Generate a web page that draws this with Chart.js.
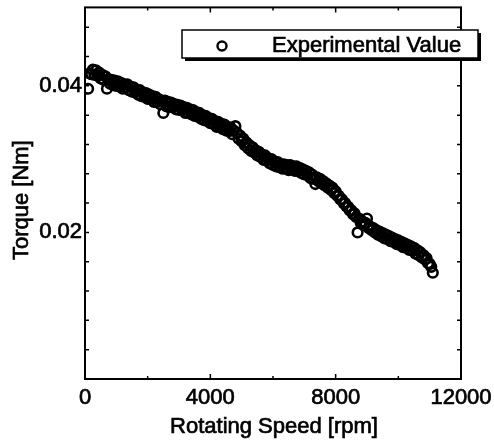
<!DOCTYPE html>
<html>
<head>
<meta charset="utf-8">
<script src="https://cdn.jsdelivr.net/npm/chart.js@4.4.1/dist/chart.umd.min.js"></script>
<style>
  html, body { margin: 0; padding: 0; background: #fff; }
  #wrap { width: 494px; height: 441px; }
</style>
</head>
<body>
<div id="wrap"><canvas id="torqueChart" width="494" height="441"></canvas></div>
<script>
// Measured torque vs rotating speed
const speed = [
  100, 150, 200, 250, 300, 350, 400, 450, 500, 550, 600, 650, 700, 750, 800, 850, 900, 950,
  1000, 1050, 1100, 1150, 1200, 1250, 1300, 1350, 1400, 1450, 1500, 1550, 1600, 1650, 1700, 1750, 1800, 1850, 1900, 1950,
  2000, 2050, 2100, 2150, 2200, 2250, 2300, 2350, 2400, 2450, 2500, 2550, 2600, 2650, 2700, 2750, 2800, 2850, 2900, 2950,
  3000, 3050, 3100, 3150, 3200, 3250, 3300, 3350, 3400, 3450, 3500, 3550, 3600, 3650, 3700, 3750, 3800, 3850, 3900, 3950,
  4000, 4050, 4100, 4150, 4200, 4250, 4300, 4350, 4400, 4450, 4500, 4550, 4600, 4650, 4700, 4750, 4800, 4850, 4900, 4950,
  5000, 5050, 5100, 5150, 5200, 5250, 5300, 5350, 5400, 5450, 5500, 5550, 5600, 5650, 5700, 5750, 5800, 5850, 5900, 5950,
  6000, 6050, 6100, 6150, 6200, 6250, 6300, 6350, 6400, 6450, 6500, 6550, 6600, 6650, 6700, 6750, 6800, 6850, 6900, 6950,
  7000, 7050, 7100, 7150, 7200, 7250, 7300, 7350, 7400, 7450, 7500, 7550, 7600, 7650, 7700, 7750, 7800, 7850, 7900, 7950,
  8000, 8050, 8100, 8150, 8200, 8250, 8300, 8350, 8400, 8450, 8500, 8550, 8600, 8650, 8700, 8750, 8800, 8850, 8900, 8950,
  9000, 9050, 9100, 9150, 9200, 9250, 9300, 9350, 9400, 9450, 9500, 9550, 9600, 9650, 9700, 9750, 9800, 9850, 9900, 9950,
  10000, 10050, 10100, 10150, 10200, 10250, 10300, 10350, 10400, 10450, 10500, 10550, 10600, 10650, 10700, 10750, 10800, 10850, 10900, 10950,
  11000, 11050, 11100
];
const torque = [
  0.0396, 0.0417, 0.0416, 0.0422, 0.0415, 0.0421, 0.0414, 0.0418, 0.0410, 0.0415, 0.0408, 0.0413, 0.0396, 0.0409, 0.0403, 0.0408, 0.0401, 0.0407,
  0.0400, 0.0406, 0.0399, 0.0404, 0.0396, 0.0402, 0.0398, 0.0402, 0.0394, 0.0399, 0.0392, 0.0398, 0.0391, 0.0395, 0.0388, 0.0394, 0.0386, 0.0391, 0.0385, 0.0390,
  0.0382, 0.0388, 0.0382, 0.0386, 0.0378, 0.0385, 0.0378, 0.0382, 0.0375, 0.0380, 0.0363, 0.0380, 0.0372, 0.0378, 0.0371, 0.0377, 0.0371, 0.0375, 0.0368, 0.0374,
  0.0367, 0.0373, 0.0367, 0.0371, 0.0363, 0.0370, 0.0363, 0.0368, 0.0361, 0.0367, 0.0359, 0.0364, 0.0358, 0.0363, 0.0355, 0.0360, 0.0353, 0.0359, 0.0352, 0.0356,
  0.0349, 0.0355, 0.0348, 0.0352, 0.0344, 0.0351, 0.0344, 0.0348, 0.0341, 0.0347, 0.0339, 0.0344, 0.0338, 0.0343, 0.0334, 0.0339, 0.0345, 0.0336, 0.0328, 0.0332,
  0.0324, 0.0328, 0.0319, 0.0323, 0.0315, 0.0319, 0.0311, 0.0316, 0.0309, 0.0312, 0.0305, 0.0310, 0.0303, 0.0306, 0.0299, 0.0305, 0.0298, 0.0301, 0.0294, 0.0300,
  0.0292, 0.0297, 0.0290, 0.0296, 0.0289, 0.0293, 0.0287, 0.0293, 0.0287, 0.0292, 0.0285, 0.0292, 0.0286, 0.0290, 0.0284, 0.0290, 0.0284, 0.0288, 0.0281, 0.0286,
  0.0279, 0.0284, 0.0278, 0.0282, 0.0274, 0.0279, 0.0273, 0.0266, 0.0275, 0.0270, 0.0273, 0.0267, 0.0270, 0.0264, 0.0267, 0.0261, 0.0264, 0.0258, 0.0261, 0.0254,
  0.0256, 0.0250, 0.0250, 0.0245, 0.0245, 0.0240, 0.0240, 0.0235, 0.0235, 0.0230, 0.0230, 0.0225, 0.0226, 0.0221, 0.0200, 0.0219, 0.0213, 0.0215, 0.0210, 0.0213,
  0.0219, 0.0206, 0.0208, 0.0203, 0.0206, 0.0200, 0.0203, 0.0197, 0.0201, 0.0195, 0.0199, 0.0192, 0.0197, 0.0191, 0.0195, 0.0188, 0.0193, 0.0187, 0.0191, 0.0184,
  0.0189, 0.0183, 0.0187, 0.0180, 0.0185, 0.0179, 0.0183, 0.0176, 0.0181, 0.0175, 0.0179, 0.0171, 0.0176, 0.0169, 0.0173, 0.0166, 0.0169, 0.0163, 0.0165, 0.0158,
  0.0157, 0.0153, 0.0145
];
const xTicks = [0, 4000, 8000, 12000];
const yLabels = [0.02, 0.04];
const seriesName = 'Experimental Value';
const xTitle = 'Rotating Speed [rpm]';
const yTitle = 'Torque [Nm]';

const FONT = "'Liberation Sans', Arial, sans-serif";

function heavyText(ctx, text, x, y) {
  ctx.fillText(text, x, y);
  ctx.strokeText(text, x, y);
}

// Box frame with inward ticks, axis titles and the boxed legend
const framePlugin = {
  id: 'frame',
  afterDatasetsDraw(chart) {
    const { ctx, chartArea: a, scales: { x, y } } = chart;
    ctx.save();
    ctx.strokeStyle = '#000';
    ctx.lineWidth = 2;
    ctx.strokeRect(a.left, a.top, a.right - a.left, a.bottom - a.top);

    ctx.lineWidth = 1.5;
    ctx.beginPath();
    for (let v = 0; v <= 12000; v += 2000) {
      const px = x.getPixelForValue(v);
      const len = v % 4000 === 0 ? 5 : 3;
      ctx.moveTo(px, a.bottom); ctx.lineTo(px, a.bottom - len);
      ctx.moveTo(px, a.top); ctx.lineTo(px, a.top + len);
    }
    for (let i = 0; i <= 12; i++) {
      const py = y.getPixelForValue(i * 0.004);
      ctx.moveTo(a.left, py); ctx.lineTo(a.left + 4, py);
      ctx.moveTo(a.right, py); ctx.lineTo(a.right - 4, py);
    }
    ctx.stroke();

    // axis titles
    ctx.fillStyle = '#000';
    ctx.lineWidth = 0.7;
    ctx.font = '22px ' + FONT;
    ctx.textAlign = 'center';
    ctx.textBaseline = 'middle';
    heavyText(ctx, xTitle, (a.left + a.right) / 2 + 1, 427);
    ctx.save();
    ctx.translate(22, (a.top + a.bottom) / 2 + 7);
    ctx.rotate(-Math.PI / 2);
    heavyText(ctx, yTitle, 0, 0);
    ctx.restore();

    // legend box with a drop shadow
    const bx = 182, by = 30, bw = 296, bh = 28;
    ctx.fillStyle = '#000';
    ctx.fillRect(bx + 3, by + 3, bw, bh);
    ctx.fillStyle = '#fff';
    ctx.fillRect(bx, by, bw, bh);
    ctx.lineWidth = 1.5;
    ctx.strokeRect(bx, by, bw, bh);
    ctx.lineWidth = 2.4;
    ctx.beginPath();
    ctx.arc(bx + 40, by + 16, 4.5, 0, Math.PI * 2);
    ctx.stroke();
    ctx.fillStyle = '#000';
    ctx.lineWidth = 0.7;
    ctx.textAlign = 'left';
    heavyText(ctx, seriesName, bx + 90, by + 16);
    ctx.restore();
  }
};

new Chart(document.getElementById('torqueChart'), {
  type: 'scatter',
  data: {
    datasets: [{
      label: seriesName,
      data: speed.map((s, i) => ({ x: s, y: torque[i] })),
      pointStyle: 'circle',
      pointRadius: 4.8,
      pointBorderWidth: 2.6,
      borderColor: '#000',
      backgroundColor: 'rgba(0,0,0,0)'
    }]
  },
  options: {
    responsive: false,
    animation: false,
    layout: { padding: { top: 6, right: 33, left: 0, bottom: 0 } },
    plugins: { legend: { display: false }, tooltip: { enabled: false } },
    scales: {
      x: {
        type: 'linear',
        min: 0,
        max: 12000,
        afterBuildTicks: (scale) => { scale.ticks = xTicks.map(v => ({ value: v })); },
        afterFit: (scale) => {
          scale.height = 62;
          scale.paddingLeft = 0;
          scale.paddingRight = 0;
        },
        grid: { display: false, drawTicks: false },
        border: { display: false },
        ticks: {
          color: '#000',
          padding: 6,
          maxRotation: 0,
          textStrokeColor: '#000',
          textStrokeWidth: 0.7,
          font: { family: FONT, size: 22 },
          callback: (v) => String(v)
        }
      },
      y: {
        type: 'linear',
        min: 0,
        max: 0.0507,
        afterBuildTicks: (scale) => { scale.ticks = yLabels.map(v => ({ value: v })); },
        afterFit: (scale) => {
          scale.width = 85;
          scale.paddingTop = 0;
          scale.paddingBottom = 0;
        },
        grid: { display: false, drawTicks: false },
        border: { display: false },
        ticks: {
          color: '#000',
          padding: 3,
          textStrokeColor: '#000',
          textStrokeWidth: 0.7,
          font: { family: FONT, size: 22 },
          callback: (v) => v.toFixed(2)
        }
      }
    }
  },
  plugins: [framePlugin]
});
</script>
</body>
</html>
